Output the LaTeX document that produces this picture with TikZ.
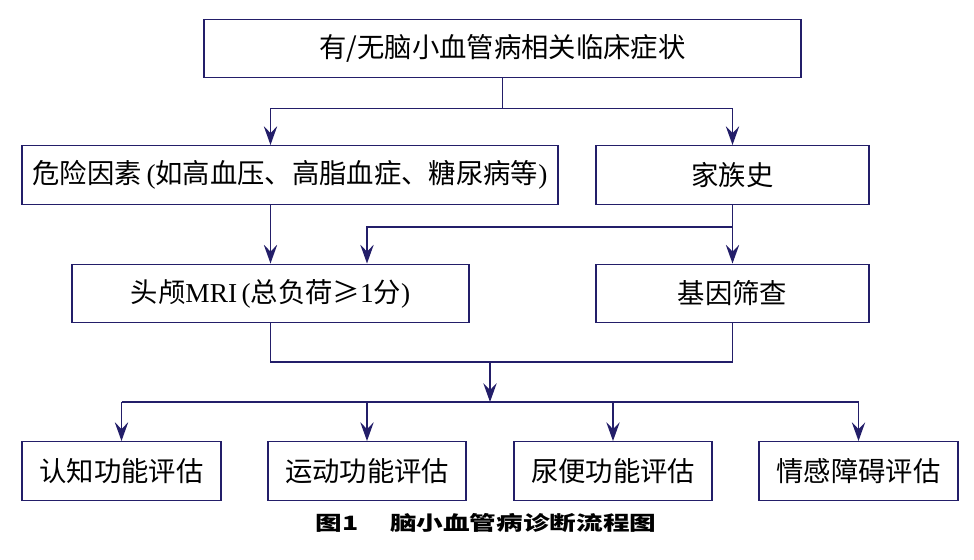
\documentclass[tikz,border=0pt]{standalone}
\usepackage{fontspec}
\setmainfont{Liberation Serif}
\newfontfamily\cjk{Noto Sans CJK SC}
\newfontfamily\capfont{Noto Sans CJK SC}[FakeStretch=1.35]
\usepackage{tikz}
\usetikzlibrary{arrows.meta,positioning,calc}
\definecolor{fcnavy}{RGB}{35,30,105}
\def\pxu{0.75pt}

\begin{document}
\begin{tikzpicture}[
  x=0.75pt, y=-0.75pt,
  box/.style={draw=fcnavy, rectangle, minimum height=58.5*\pxu, inner sep=0pt, align=center,
              line width=1.1pt, font=\fontsize{20.5}{24}\selectfont\cjk},
  >={Stealth[length=14pt,width=10pt,inset=5pt]},
  arrline/.style={->, line width=1.1pt, draw=fcnavy},
  link/.style={line width=1.1pt, draw=fcnavy},
]
\useasboundingbox (0,0) rectangle (974,560);

% ============ top: symptoms ============
\node[box, minimum width=597*\pxu] (symp) at (502.5,48.5) {有/无脑小血管病相关临床症状};

% ============ second row ============
\node[box, minimum width=536*\pxu] (risk) at (290,175)
  {危险因素\,{\rmfamily(}如高血压、高脂血症、糖尿病等{\rmfamily)}};
\node[box, minimum width=273*\pxu] (family) at (732.5,175) {家族史};

% ============ third row ============
\node[box, minimum width=397*\pxu] (mri) at (270.5,293.5)
  {头颅{\rmfamily MRI\,(}总负荷≥{\rmfamily 1}分{\rmfamily)}};
\node[box, minimum width=273*\pxu] (gene) at (732.5,293.5) {基因筛查};

% ============ assessments ============
\node[box, minimum width=199*\pxu] (cog) at (121.5,471) {认知功能评估};
\node[box, minimum width=198*\pxu] (motor) at (367,471) {运动功能评估};
\node[box, minimum width=198*\pxu] (bladder) at (613,471) {尿便功能评估};
\node[box, minimum width=199*\pxu] (mood) at (858.5,471) {情感障碍评估};

% ============ caption ============
\node[font=\fontsize{14.8}{17}\selectfont\capfont\bfseries] (cap) at (486,523.5) {图1\hspace{1.6em}脑小血管病诊断流程图};

% ===================== ARROWS =====================

% symptoms -> risk factors / family history
\coordinate (jt) at ($(symp.south)+(0,30)$);
\draw[link] (symp.south) -- (jt);
\draw[arrline] (jt) -| (mri.north |- risk.north);
\draw[arrline] (jt) -| (family.north);

% risk factors -> MRI
\draw[arrline] (mri.north |- risk.south) -- (mri.north);

% family history -> gene screening, and -> MRI
\coordinate (jf) at ($(family.south)+(0,22)$);
\draw[arrline] (family.south) -- (gene.north);
\draw[arrline] (jf) -| ([xshift=96.5*\pxu]mri.north);

% MRI + gene screening joined
\coordinate (jm) at (490,362);
\coordinate (jd) at (490,402);
\draw[link] (mri.south) |- (jm) -| (gene.south);
\draw[arrline] (jm) -- (jd);

% split to the four assessments
\draw[link] (cog.north |- jd) -- (mood.north |- jd);
\foreach \n in {cog,motor,bladder,mood}
  \draw[arrline] (\n.north |- jd) -- (\n.north);

\end{tikzpicture}
\end{document}
